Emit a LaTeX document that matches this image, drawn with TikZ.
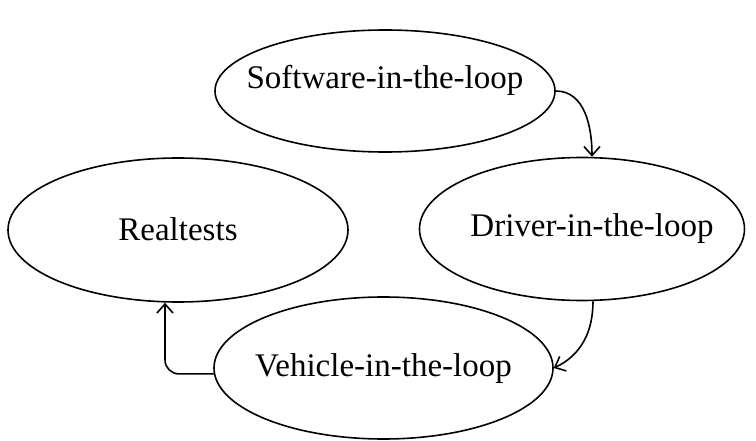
\documentclass[tikz,border=0pt]{standalone}
\usepackage{fontspec}
\setmainfont{Liberation Serif}
\usetikzlibrary{shapes.geometric,arrows.meta}
\begin{document}
\begin{tikzpicture}[x=1pt,y=-1pt,font=\fontsize{33}{40}\selectfont,
                stage/.style={draw,ellipse,line width=1.6pt,inner sep=0pt},
                flow/.style={line width=1.6pt,-{Straight Barb[length=9pt,width=16pt,line width=1.6pt]}}]
                \useasboundingbox (0,0) rectangle (756,441);

                \node[stage,minimum width=340pt,minimum height=122pt,label={[yshift=11pt]center:Software-in-the-loop}] (sil) at (385,91) {};
                \node[stage,minimum width=325pt,minimum height=143pt,label={[xshift=10pt]center:Driver-in-the-loop}] (dil) at (582,229) {};
                \node[stage,minimum width=340pt,minimum height=144pt,label={[yshift=1pt]center:Realtests}] (rt) at (178,230) {};
                \node[stage,minimum width=339pt,minimum height=142pt,label={[yshift=-1pt]center:Vehicle-in-the-loop}] (vil) at (383.5,368) {};

                \draw[flow] (sil.east) to[out=0,in=90] ([xshift=10pt]dil.north);
                \draw[flow] ([xshift=11pt]dil.south) to[out=-90,in=25] (vil.east);
                \draw[flow,rounded corners=14pt] (vil.182) -| ([xshift=-13pt]rt.south);
            \end{tikzpicture}
\end{document}
